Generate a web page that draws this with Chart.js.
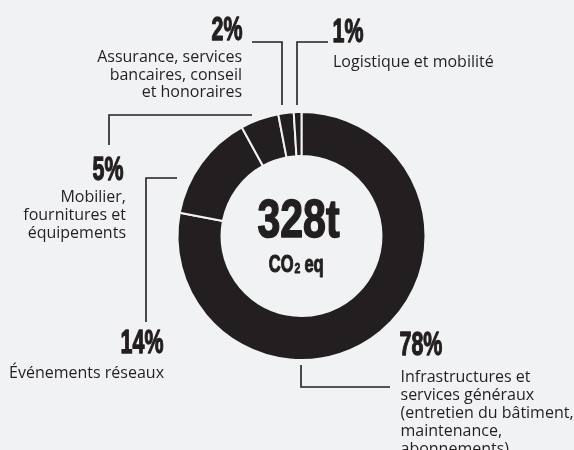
<!DOCTYPE html>
<html><head><meta charset="utf-8">
<script src="https://cdn.jsdelivr.net/npm/chart.js@4/dist/chart.umd.min.js"></script>
<style>html,body{margin:0;padding:0;background:#f1f2f4;overflow:hidden}#wrap{width:574px;height:450px}</style>
</head><body><div id="wrap"><canvas id="c" width="574" height="450"></canvas></div>
<script>
// ---- data ----
const categories = [
  "Infrastructures et services généraux (entretien du bâtiment, maintenance, abonnements)",
  "Événements réseaux",
  "Mobilier, fournitures et équipements",
  "Assurance, services bancaires, conseil et honoraires",
  "Logistique et mobilité"
];
const shares = [78, 14, 5, 2, 1];
const descriptions = [
  ["Infrastructures et", "services généraux", "(entretien du bâtiment,", "maintenance,", "abonnements)"],
  ["Événements réseaux"],
  ["Mobilier,", "fournitures et", "équipements"],
  ["Assurance, services", "bancaires, conseil", "et honoraires"],
  ["Logistique et mobilité"]
];
const totalLabel = "328t";
const unitLabel = ["CO", "2", " eq"];

// ---- styling / layout (relative to donut centre) ----
const BG = "#f1f2f4", INK = "#231f20";
const layout = [
  {pct:{x:98.5,y:119,a:"left"},  desc:{x:99,y:146,lh:18,a:"left"},  line:[[-0.5,129],[-0.5,151],[88.5,151]]},
  {pct:{x:-137.5,y:117,a:"right"},desc:{x:-137.5,y:142,lh:18,a:"right"},line:[[-124.5,-58],[-155.5,-58],[-155.5,86]]},
  {pct:{x:-177.5,y:-56,a:"right"},desc:{x:-175.5,y:-34,lh:18,a:"right"},line:[[-49.5,-121],[-192.5,-121],[-192.5,-91]]},
  {pct:{x:-58.5,y:-196,a:"right"},desc:{x:-59.5,y:-174,lh:17.5,a:"right"},line:[[-49.5,-194],[-19.5,-194],[-19.5,-131]]},
  {pct:{x:31.5,y:-194,a:"left"}, desc:{x:31.5,y:-169,lh:18,a:"left"}, line:[[-4.5,-131],[-4.5,-194],[26.5,-194]]}
];

function condensed(ctx, text, x, y, size, sx, align, weight) {
  ctx.save();
  ctx.font = "bold " + size + "px 'Liberation Sans', Arial, sans-serif";
  const w = ctx.measureText(text).width * sx;
  let left = x;
  if (align === "right") left = x - w; else if (align === "center") left = x - w / 2;
  ctx.translate(left, y);
  ctx.scale(sx, 1);
  ctx.textAlign = "left";
  ctx.textBaseline = "alphabetic";
  ctx.fillText(text, 0, 0);
  if (weight) { ctx.lineWidth = weight; ctx.lineJoin = "round"; ctx.strokeText(text, 0, 0); }
  ctx.restore();
  return w;
}

const annotate = {
  id: "annotate",
  afterDraw(chart) {
    const ctx = chart.ctx;
    const arc = chart.getDatasetMeta(0).data[0];
    const cx = arc.x, cy = arc.y;
    ctx.save();
    ctx.fillStyle = INK;
    ctx.strokeStyle = INK;
    layout.forEach((L, i) => {
      ctx.lineWidth = 1.6;
      ctx.beginPath();
      L.line.forEach((p, j) => { const X = cx + p[0], Y = cy + p[1]; j ? ctx.lineTo(X, Y) : ctx.moveTo(X, Y); });
      ctx.stroke();
      condensed(ctx, shares[i] + "%", cx + L.pct.x - 0.5, cy + L.pct.y, 33.5, 0.64, L.pct.a, 1.3);
      ctx.font = "16px 'Open Sans', 'DejaVu Sans', sans-serif";
      ctx.textAlign = L.desc.a;
      ctx.textBaseline = "alphabetic";
      descriptions[i].forEach((t, k) => ctx.fillText(t, cx + L.desc.x, cy + L.desc.y + k * L.desc.lh));
    });
    // centre text
    condensed(ctx, totalLabel, cx - 3, cy + 0.5, 54, 0.76, "center", 1.6);
    // CO2 eq
    const s1 = 23.5, sx = 0.7;
    ctx.font = "bold " + s1 + "px 'Liberation Sans'";
    const w1 = ctx.measureText(unitLabel[0]).width * sx;
    ctx.font = "bold 15px 'Liberation Sans'";
    const w2 = ctx.measureText(unitLabel[1]).width * sx;
    ctx.font = "bold " + s1 + "px 'Liberation Sans'";
    const w3 = ctx.measureText(unitLabel[2]).width * sx;
    let x0 = cx - 5.5 - (w1 + w2 + w3) / 2;
    const by = cy + 36;
    condensed(ctx, unitLabel[0], x0, by, s1, sx, "left", 1.1);
    condensed(ctx, unitLabel[1], x0 + w1 + 1, by + 1, 15, sx, "left", 0.8);
    condensed(ctx, unitLabel[2], x0 + w1 + w2 + 0.5, by, s1, sx, "left", 1.1);
    ctx.restore();
  }
};

new Chart(document.getElementById("c"), {
  type: "doughnut",
  data: {
    labels: categories,
    datasets: [{
      data: shares,
      backgroundColor: INK,
      borderColor: BG,
      borderWidth: 2,
      hoverOffset: 0
    }]
  },
  options: {
    responsive: false,
    animation: false,
    cutout: "64.5%",
    layout: {padding: {left: 176.5, right: 147.5, top: 111, bottom: 89}},
    plugins: {legend: {display: false}, tooltip: {enabled: false}}
  },
  plugins: [annotate, {
    id: "bg",
    beforeDraw(chart) { const c = chart.ctx; c.save(); c.fillStyle = BG; c.fillRect(0, 0, chart.width, chart.height); c.restore(); }
  }]
});
</script>
</body></html>
